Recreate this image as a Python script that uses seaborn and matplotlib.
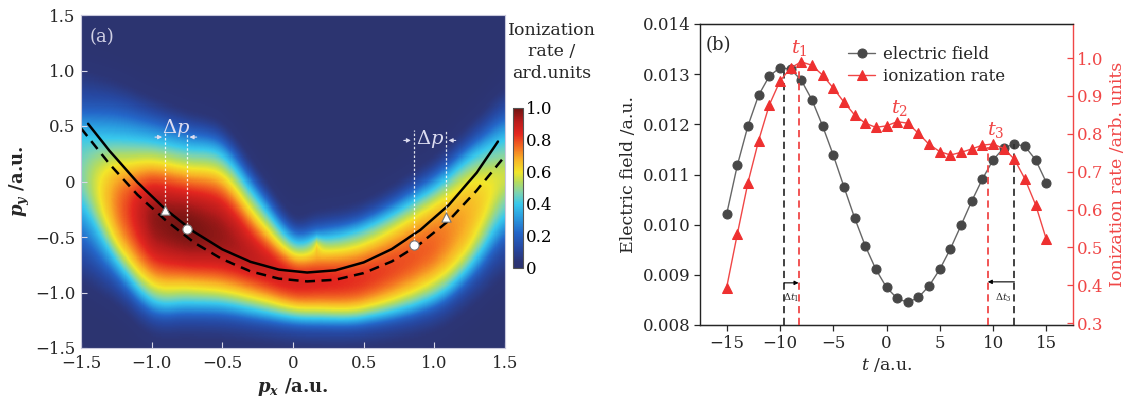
import numpy as np
import pandas as pd
import matplotlib
matplotlib.use("Agg")
import matplotlib.pyplot as plt
import seaborn as sns
from matplotlib.colors import LinearSegmentedColormap

sns.set_style("ticks")
plt.rcParams["font.family"] = ["DejaVu Serif"]
plt.rcParams["mathtext.fontset"] = "dejavuserif"

# ---------------- data: panel (a) ----------------
# The map is read column by column: for each p_x column, the p_y positions (top -> bottom)
# of the colour levels navy/blue/cyan/yellow, the ridge, then yellow/cyan/blue/navy below,
# together with the level value found at each of those positions.
COLS_X = [-1.50, -1.25, -1.00, -0.75, -0.50, -0.25, 0.00, 0.15, 0.50, 1.00, 1.25, 1.50]
KNOT_Y = [
    [1.00, 0.72, 0.40, 0.25, 0.08, -0.08, -0.20, -0.62, -0.90],
    [0.90, 0.70, 0.39, 0.16, -0.20, -0.57, -0.72, -0.92, -1.11],
    [0.75, 0.60, 0.36, 0.18, -0.33, -0.93, -1.08, -1.22, -1.38],
    [0.63, 0.50, 0.30, 0.12, -0.42, -0.96, -1.10, -1.23, -1.40],
    [0.51, 0.40, 0.24, 0.06, -0.50, -0.99, -1.11, -1.24, -1.41],
    [0.09, -0.02, -0.15, -0.34, -0.72, -1.06, -1.17, -1.28, -1.44],
    [-0.33, -0.42, -0.54, -0.66, -0.89, -1.14, -1.23, -1.32, -1.47],
    [-0.28, -0.40, -0.53, -0.65, -0.90, -1.15, -1.24, -1.33, -1.48],
    [-0.18, -0.30, -0.42, -0.57, -0.88, -1.14, -1.23, -1.32, -1.47],
    [0.21, 0.09, -0.06, -0.21, -0.58, -0.90, -1.05, -1.17, -1.35],
    [0.51, 0.36, 0.21, 0.00, -0.30, -0.60, -0.78, -0.93, -1.14],
    [0.84, 0.65, 0.39, 0.17, 0.05, -0.07, -0.30, -0.56, -0.84],
]
KNOT_V = [
    [0.04, 0.15, 0.40, 0.44, 0.46, 0.44, 0.38, 0.15, 0.04],
    [0.04, 0.15, 0.40, 0.60, 0.74, 0.60, 0.40, 0.15, 0.04],
    [0.04, 0.15, 0.40, 0.60, 0.97, 0.60, 0.40, 0.15, 0.04],
    [0.04, 0.15, 0.40, 0.60, 1.00, 0.60, 0.40, 0.15, 0.04],
    [0.04, 0.15, 0.40, 0.60, 0.96, 0.60, 0.40, 0.15, 0.04],
    [0.04, 0.15, 0.40, 0.60, 0.90, 0.60, 0.40, 0.15, 0.04],
    [0.04, 0.15, 0.40, 0.60, 0.87, 0.60, 0.40, 0.15, 0.04],
    [0.04, 0.15, 0.40, 0.60, 0.86, 0.60, 0.40, 0.15, 0.04],
    [0.04, 0.15, 0.40, 0.60, 0.83, 0.60, 0.40, 0.15, 0.04],
    [0.04, 0.15, 0.40, 0.60, 0.77, 0.60, 0.40, 0.15, 0.04],
    [0.04, 0.15, 0.40, 0.60, 0.68, 0.60, 0.40, 0.15, 0.04],
    [0.04, 0.15, 0.40, 0.52, 0.56, 0.52, 0.40, 0.15, 0.04],
]
SPIKE = dict(x=0.17, y=-0.57, amp=0.13)

# solid and dashed classical curves
CURVE_X = [-1.45, -1.30, -1.10, -0.90, -0.70, -0.50, -0.30, -0.10, 0.10, 0.30, 0.50, 0.70, 0.90, 1.10, 1.30, 1.45]
SOLID_Y = [0.52, 0.279, -0.009, -0.253, -0.454, -0.611, -0.724, -0.794, -0.82, -0.80, -0.729, -0.608, -0.437, -0.215, 0.08, 0.36]
DASH_X = [-1.50, -1.30, -1.10, -0.90, -0.70, -0.50, -0.30, -0.10, 0.10, 0.30, 0.50, 0.70, 0.90, 1.10, 1.30, 1.50]
DASH_Y = [0.48, 0.16, -0.12, -0.35, -0.55, -0.70, -0.81, -0.875, -0.90, -0.885, -0.825, -0.72, -0.56, -0.355, -0.08, 0.23]

TRI_X = [-0.906, 1.081]
TRI_Y = [-0.255, -0.317]
CIRC_X = [-0.752, 0.854]
CIRC_Y = [-0.431, -0.572]
DP_TOP = [0.44, 0.46]
DP_ARROW_Y = [0.40, 0.37]

# ---------------- data: panel (b) ----------------
T = list(range(-15, 16))
EFIELD = [0.01021, 0.01118, 0.01197, 0.01258, 0.01296, 0.01313, 0.01310, 0.01288, 0.01249, 0.01197,
          0.01139, 0.01076, 0.01014, 0.00958, 0.00911, 0.00875, 0.00853, 0.00845, 0.00855, 0.00878,
          0.00911, 0.00952, 0.00999, 0.01047, 0.01091, 0.01129, 0.01153, 0.01161, 0.01156, 0.01129, 0.01084]
IRATE = [0.394, 0.535, 0.671, 0.782, 0.876, 0.939, 0.974, 0.990, 0.981, 0.955,
         0.921, 0.884, 0.850, 0.828, 0.817, 0.821, 0.832, 0.828, 0.801, 0.772,
         0.753, 0.744, 0.751, 0.760, 0.770, 0.773, 0.761, 0.733, 0.680, 0.612, 0.521]
E_PEAK_T = [-9.6, 12.0]
E_PEAK_V = [0.01309, 0.01161]
I_PEAK_T = [-8.25, 9.5]
I_PEAK_V = [0.988, 0.765]
T_LABELS = ["$t_1$", "$t_2$", "$t_3$"]
T_LABEL_X = [-8.15, 1.2, 10.26]
T_LABEL_Y = [0.01352, 0.01233, 0.01189]

W, H = 1129, 408
fig = plt.figure(figsize=(W / 100, H / 100), dpi=100)

# ---------------- panel (a) ----------------
cmap = LinearSegmentedColormap.from_list("ion", [
    (0.00, "#2c3470"), (0.04, "#2c3576"), (0.12, "#2647a0"), (0.22, "#2466c8"),
    (0.32, "#2a9ee0"), (0.40, "#38c8ec"), (0.47, "#7dd3b0"), (0.54, "#b8dc5a"),
    (0.60, "#f2e62a"), (0.68, "#f8b226"), (0.76, "#f26a22"), (0.84, "#e3261f"),
    (0.92, "#b81c1c"), (1.00, "#6e1412")])


def hermite(xq, xs, ys):
    xs = np.asarray(xs, float)
    ys = np.asarray(ys, float)
    n = len(xs)
    m = np.empty(n)
    m[1:-1] = (ys[2:] - ys[:-2]) / (xs[2:] - xs[:-2])
    m[0] = (ys[1] - ys[0]) / (xs[1] - xs[0])
    m[-1] = (ys[-1] - ys[-2]) / (xs[-1] - xs[-2])
    i = np.clip(np.searchsorted(xs, xq) - 1, 0, n - 2)
    h = xs[i + 1] - xs[i]
    t = (xq - xs[i]) / h
    h00 = 2 * t ** 3 - 3 * t ** 2 + 1
    h10 = t ** 3 - 2 * t ** 2 + t
    h01 = -2 * t ** 3 + 3 * t ** 2
    h11 = t ** 3 - t ** 2
    return h00 * ys[i] + h10 * h * m[i] + h01 * ys[i + 1] + h11 * h * m[i + 1]


NX, NY = 400, 320
gx = np.linspace(-1.5, 1.5, NX)
gy = np.linspace(1.5, -1.5, NY)
KY = np.array(KNOT_Y)
KV = np.array(KNOT_V)
KYg = np.stack([hermite(gx, COLS_X, KY[:, k]) for k in range(KY.shape[1])], axis=1)
KVg = np.stack([np.interp(gx, COLS_X, KV[:, k]) for k in range(KV.shape[1])], axis=1)
for k in range(1, KYg.shape[1]):
    KYg[:, k] = np.minimum(KYg[:, k], KYg[:, k - 1] - 0.01)

tt = np.array([0.2, 0.4, 0.6, 0.8])
Z = np.zeros((NY, NX))
for j in range(NX):
    ky, kv = KYg[j], KVg[j]
    ys = [ky[0] + 0.25, ky[0], ky[1], ky[2], ky[3]]
    vs = [0.0, kv[0], kv[1], kv[2], kv[3]]
    ys += list(ky[3] + (ky[4] - ky[3]) * tt) + [ky[4]]
    vs += list(kv[3] + (kv[4] - kv[3]) * (1 - (1 - tt) ** 2)) + [kv[4]]
    ys += list(ky[4] + (ky[5] - ky[4]) * tt)
    vs += list(kv[4] + (kv[5] - kv[4]) * tt ** 2)
    ys += [ky[5], ky[6], ky[7], ky[8], ky[8] - 0.25]
    vs += [kv[5], kv[6], kv[7], kv[8], 0.0]
    Z[:, j] = np.interp(-gy, -np.array(ys), np.array(vs), left=0.0, right=0.0)


def blur(A, sig):
    n = int(3 * sig)
    k = np.exp(-0.5 * (np.arange(-n, n + 1) / sig) ** 2)
    k /= k.sum()
    P = np.pad(A, ((n, n), (0, 0)), mode="edge")
    A = np.stack([np.convolve(P[:, j], k, mode="valid") for j in range(A.shape[1])], axis=1)
    P = np.pad(A, ((0, 0), (n, n)), mode="edge")
    A = np.stack([np.convolve(P[i], k, mode="valid") for i in range(A.shape[0])], axis=0)
    return A


Z = blur(Z, 4.5)
XX, YY = np.meshgrid(gx, gy)
Z = Z + SPIKE["amp"] * np.exp(-np.abs(XX - SPIKE["x"]) / 0.035) * np.exp(-(YY - SPIKE["y"]) ** 2 / (2 * 0.06 ** 2))
Z = np.clip(Z, 0, 1)
dfZ = pd.DataFrame(Z, index=np.round(gy, 3), columns=np.round(gx, 3))

rect_a = [81 / W, 1 - 348 / H, 424 / W, 333 / H]
ax_hm = fig.add_axes(rect_a)
cax = fig.add_axes([513 / W, 1 - 268 / H, 10 / W, 160 / H])
sns.heatmap(dfZ, ax=ax_hm, cmap=cmap, vmin=0, vmax=1, cbar_ax=cax,
            xticklabels=False, yticklabels=False, rasterized=True,
            cbar_kws={"ticks": [0, 0.2, 0.4, 0.6, 0.8, 1.0]})
ax_hm.set_axis_off()
cbar = ax_hm.collections[0].colorbar
cax.set_yticklabels(["0", "0.2", "0.4", "0.6", "0.8", "1.0"])
cax.tick_params(direction="in", length=2, width=0.6, labelsize=12, pad=2, colors="#333333")
for t in cax.get_yticklabels():
    t.set_color("black")
if cbar is not None:
    cbar.outline.set_edgecolor("#555555")
    cbar.outline.set_linewidth(0.8)
fig.text(552 / W, 1 - 52 / H, "Ionization\nrate /\nard.units", ha="center", va="center",
         fontsize=12.5, linespacing=1.35)

ax_a = fig.add_axes(rect_a, facecolor="none")
ax_a.set_xlim(-1.5, 1.5)
ax_a.set_ylim(-1.5, 1.5)
sns.lineplot(x=CURVE_X, y=SOLID_Y, ax=ax_a, color="black", lw=1.8, sort=False, estimator=None)
sns.lineplot(x=DASH_X, y=DASH_Y, ax=ax_a, color="black", lw=1.8, sort=False, estimator=None)
ax_a.lines[-1].set_dashes([4, 2.6])
for i in range(2):
    for xm, ym in ((TRI_X[i], TRI_Y[i]), (CIRC_X[i], CIRC_Y[i])):
        ax_a.plot([xm, xm], [ym, DP_TOP[i]], color="white", lw=0.9, ls=(0, (2, 1.5)), alpha=0.85)
    xl, xr = min(TRI_X[i], CIRC_X[i]), max(TRI_X[i], CIRC_X[i])
    ya = DP_ARROW_Y[i]
    ax_a.annotate("", xy=(xl, ya), xytext=(xl - 0.09, ya),
                  arrowprops=dict(arrowstyle="-|>", color="#dcdcf0", lw=0.8, mutation_scale=6))
    ax_a.annotate("", xy=(xr, ya), xytext=(xr + 0.09, ya),
                  arrowprops=dict(arrowstyle="-|>", color="#dcdcf0", lw=0.8, mutation_scale=6))
    ax_a.text((xl + xr) / 2, ya + 0.08 * (1 if i == 0 else 0.2), r"$\Delta p$", color="#dcdcf0",
              fontsize=14, ha="center", va="center")
sns.scatterplot(x=TRI_X, y=TRI_Y, ax=ax_a, marker="^", color="white", edgecolor="#777777",
                s=45, linewidth=0.8, zorder=5)
sns.scatterplot(x=CIRC_X, y=CIRC_Y, ax=ax_a, marker="o", color="white", edgecolor="#777777",
                s=45, linewidth=0.8, zorder=5)
ticks = [-1.5, -1.0, -0.5, 0, 0.5, 1.0, 1.5]
labs = ["\u22121.5", "\u22121.0", "\u22120.5", "0", "0.5", "1.0", "1.5"]
ax_a.set_xticks(ticks)
ax_a.set_xticklabels(labs)
ax_a.set_yticks(ticks)
ax_a.set_yticklabels(labs)
ax_a.tick_params(direction="in", length=4, width=0.8, color="#d8d8e8", labelsize=12)
ax_a.tick_params(axis="x", pad=5)
ax_a.tick_params(axis="y", pad=4)
for sp in ax_a.spines.values():
    sp.set_color("#c8c8dc")
    sp.set_linewidth(0.8)
ax_a.text(0.02, 0.935, "(a)", transform=ax_a.transAxes, color="#d0d0e4", fontsize=13, va="center")
ax_a.set_xlabel(r"$\mathbfit{p}_{\mathbfit{x}}$ /a.u.", fontsize=13, fontweight="bold", labelpad=3)
ax_a.set_ylabel(r"$\mathbfit{p}_{\mathbfit{y}}$ /a.u.", fontsize=13, fontweight="bold", labelpad=2)

# ---------------- panel (b) ----------------
RED = "#f04646"
ax_b = fig.add_axes([700 / W, 1 - 325 / H, 373 / W, 301 / H])
sns.lineplot(x=T, y=EFIELD, ax=ax_b, color="#666666", lw=1.0, marker="o", markersize=6.5,
             markerfacecolor="#474747", markeredgecolor="#474747", label="electric field", legend=False)
ax_b.set_xlim(-17.5, 17.5)
ax_b.set_ylim(0.008, 0.014)
ax_r = ax_b.twinx()
sns.lineplot(x=T, y=IRATE, ax=ax_r, color=RED, lw=1.0, marker="^", markersize=7,
             markerfacecolor="#ee3030", markeredgecolor="#ee3030", label="ionization rate", legend=False)
ax_r.set_ylim(0.295, 1.09)

for tt_, vv in zip(E_PEAK_T, E_PEAK_V):
    ax_b.plot([tt_, tt_], [0.008, vv], color="#333333", lw=1.3, ls=(0, (4, 2.5)))
for tt_, vv in zip(I_PEAK_T, I_PEAK_V):
    ax_r.plot([tt_, tt_], [0.295, vv], color=RED, lw=1.3, ls=(0, (4, 2.5)))

ax_b.annotate("", xy=(I_PEAK_T[0], 0.00884), xytext=(E_PEAK_T[0], 0.00884),
              arrowprops=dict(arrowstyle="-|>", color="black", lw=0.8, mutation_scale=6, shrinkA=0, shrinkB=0))
ax_b.annotate("", xy=(I_PEAK_T[1], 0.00886), xytext=(E_PEAK_T[1], 0.00886),
              arrowprops=dict(arrowstyle="-|>", color="black", lw=0.8, mutation_scale=6, shrinkA=0, shrinkB=0))
ax_b.text((E_PEAK_T[0] + I_PEAK_T[0]) / 2, 0.00855, r"$\Delta t_1$", fontsize=7, ha="center", va="center")
ax_b.text((E_PEAK_T[1] + I_PEAK_T[1]) / 2 + 0.2, 0.00855, r"$\Delta t_3$", fontsize=7, ha="center", va="center")

for lab, tx, ty in zip(T_LABELS, T_LABEL_X, T_LABEL_Y):
    ax_b.text(tx, ty, lab, color=RED, fontsize=14, ha="center", va="center")

ax_b.set_xticks([-15, -10, -5, 0, 5, 10, 15])
ax_b.set_xticklabels(["\u221215", "\u221210", "\u22125", "0", "5", "10", "15"])
ax_b.set_yticks([0.008, 0.009, 0.010, 0.011, 0.012, 0.013, 0.014])
ax_b.set_yticklabels(["0.008", "0.009", "0.010", "0.011", "0.012", "0.013", "0.014"])
ax_b.tick_params(axis="both", direction="out", length=4, width=0.9, labelsize=12, pad=3)
ax_r.set_yticks([0.3, 0.4, 0.5, 0.6, 0.7, 0.8, 0.9, 1.0])
ax_r.tick_params(axis="y", direction="in", length=4, width=0.9, labelsize=12, colors=RED, pad=3)
for sp in ("left", "top", "bottom"):
    ax_b.spines[sp].set_color("#222222")
    ax_b.spines[sp].set_linewidth(1.0)
ax_r.spines["right"].set_color(RED)
ax_r.spines["right"].set_linewidth(1.0)
ax_r.spines["left"].set_visible(False)
ax_r.spines["top"].set_color("#222222")
ax_b.spines["right"].set_visible(False)

ax_b.set_xlabel(r"$t$ /a.u.", fontsize=12.5, labelpad=3)
ax_b.set_ylabel("Electric field /a.u.", fontsize=12.5, labelpad=4)
ax_r.set_ylabel("Ionization rate /arb. units", fontsize=12.5, color=RED, labelpad=4)
ax_b.text(0.015, 0.93, "(b)", transform=ax_b.transAxes, fontsize=13, va="center")

h1 = ax_b.lines[0]
h2 = ax_r.lines[0]
ax_r.legend([h1, h2], ["electric field", "ionization rate"], loc="upper left",
            bbox_to_anchor=(0.38, 0.95), frameon=False, fontsize=12, handlelength=1.6,
            handletextpad=0.5, labelspacing=0.3, borderaxespad=0)

fig.savefig("out.png", dpi=100)
